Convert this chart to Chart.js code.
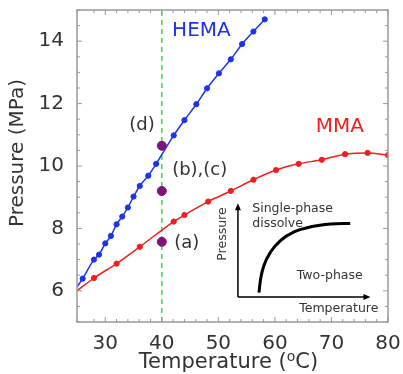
<!DOCTYPE html>
<html>
<head>
<meta charset="utf-8">
<script src="https://cdn.jsdelivr.net/npm/chart.js@4.4.1/dist/chart.umd.min.js"></script>
<style>
  html, body { margin: 0; padding: 0; background: #fff; }
  #wrap { width: 403px; height: 374px; }
</style>
</head>
<body>
<div id="wrap"><canvas id="myChart"></canvas></div>
<script>
// HEMA measured points (temperature, pressure)
const hemaT = [26.0, 28.0, 28.9, 30.0, 31.0, 32.0, 33.0, 34.0, 35.0, 36.1, 37.6, 39.0, 42.1, 44.0, 46.1, 48.0, 50.1, 52.2, 54.2, 56.2, 58.2];
const hemaP = [6.39, 7.0, 7.16, 7.52, 7.76, 8.13, 8.38, 8.67, 9.02, 9.36, 9.69, 10.07, 10.98, 11.47, 11.98, 12.49, 12.97, 13.42, 13.91, 14.31, 14.70];
// MMA measured points
const mmaT = [28.0, 32.0, 36.1, 42.1, 44.0, 48.2, 52.2, 56.2, 60.2, 64.2, 68.3, 72.4, 76.4, 80.0];
const mmaP = [6.41, 6.87, 7.41, 8.22, 8.43, 8.86, 9.2, 9.56, 9.87, 10.07, 10.2, 10.38, 10.42, 10.35];
// fitted curve start points (left edge of the plot)
const hemaStart = { x: 25, y: 6.12 };
const mmaStart = { x: 25, y: 6.0 };
// observation points at 40 °C: (a), (b)(c), (d)
const obsT = [40, 40, 40];
const obsP = [7.57, 9.2, 10.65];
const obsLabels = ['(a)', '(b),(c)', '(d)'];
const obsLabelT = [44.4, 46.7, 36.5];
const obsLabelP = [7.52, 9.87, 11.29];
// inset schematic: phase boundary, axes
const insetCurveT = [57.18, 57.48, 58.07, 59.26, 61.03, 63.39, 66.35, 69.89, 73.32];
const insetCurveP = [5.94, 6.39, 6.82, 7.25, 7.62, 7.89, 8.05, 8.14, 8.16];
const insetOrigin = { x: 53.46, y: 5.8 };
const insetXEnd = 76.9;
const insetYEnd = 8.81;
const insetTexts = [
  { text: 'Single-phase', x: 56.0, y: 8.64, align: 'left', rot: false },
  { text: 'dissolve', x: 56.0, y: 8.15, align: 'left', rot: false },
  { text: 'Two-phase', x: 69.7, y: 6.49, align: 'center', rot: false },
  { text: 'Temperature', x: 71.3, y: 5.42, align: 'center', rot: false },
  { text: 'Pressure', x: 50.7, y: 7.82, align: 'center', rot: true }
];

const BLUE = 'rgb(30, 50, 235)';
const RED = 'rgb(240, 30, 30)';
const TXT = '#333';
const FONT = 'DejaVu Sans';

function toXY(xs, ys) {
    const out = [];
    for (let i = 0; i < xs.length; i++) {
        out.push({ x: xs[i], y: ys[i] });
    }
    return out;
}

// frame, inward ticks, axis titles, text labels and the inset arrows
const decorPlugin = {
    id: 'decor',
    afterDatasetsDraw(chart) {
        const ctx = chart.ctx;
        const xs = chart.scales.x;
        const ys = chart.scales.y;
        const a = chart.chartArea;
        ctx.save();
        ctx.strokeStyle = '#999';
        ctx.lineWidth = 1.5;
        ctx.strokeRect(a.left, a.top, a.right - a.left, a.bottom - a.top);
        ctx.lineWidth = 1;
        ctx.beginPath();
        xs.ticks.forEach(t => {
            const px = xs.getPixelForValue(t.value);
            const len = t.value % 10 === 0 ? 5 : 3;
            ctx.moveTo(px, a.bottom); ctx.lineTo(px, a.bottom - len);
            ctx.moveTo(px, a.top); ctx.lineTo(px, a.top + len);
        });
        ys.ticks.forEach(t => {
            const py = ys.getPixelForValue(t.value);
            const len = t.value % 2 === 0 ? 5 : 3;
            ctx.moveTo(a.left, py); ctx.lineTo(a.left + len, py);
            ctx.moveTo(a.right, py); ctx.lineTo(a.right - len, py);
        });
        ctx.stroke();

        // y axis title, a bit above the middle like the original
        ctx.save();
        ctx.translate(18, (a.top + a.bottom) / 2 - 13);
        ctx.rotate(-Math.PI / 2);
        ctx.textAlign = 'center';
        ctx.textBaseline = 'middle';
        ctx.fillStyle = TXT;
        ctx.font = '20px "' + FONT + '"';
        ctx.fillText('Pressure (MPa)', 0, 0);
        ctx.restore();

        // x axis title with a raised small "o"
        ctx.fillStyle = TXT;
        ctx.textBaseline = 'alphabetic';
        ctx.textAlign = 'left';
        const big = '21px "' + FONT + '"';
        const small = '14px "' + FONT + '"';
        ctx.font = big;
        const w1 = ctx.measureText('Temperature (').width;
        const w3 = ctx.measureText('C)').width;
        ctx.font = small;
        const w2 = ctx.measureText('o').width;
        const tx = (a.left + a.right) / 2 - (w1 + w2 + w3) / 2 - 4;
        const ty = 368;
        ctx.font = big;
        ctx.fillText('Temperature (', tx, ty);
        ctx.font = small;
        ctx.fillText('o', tx + w1, ty - 7);
        ctx.font = big;
        ctx.fillText('C)', tx + w1 + w2, ty);

        ctx.textBaseline = 'middle';
        ctx.textAlign = 'center';
        ctx.font = '20px "' + FONT + '"';
        ctx.fillStyle = BLUE;
        ctx.fillText('HEMA', xs.getPixelForValue(47.0), ys.getPixelForValue(14.32));
        ctx.fillStyle = RED;
        ctx.fillText('MMA', xs.getPixelForValue(71.5), ys.getPixelForValue(11.26));
        ctx.fillStyle = TXT;
        ctx.font = '18px "' + FONT + '"';
        for (let i = 0; i < obsLabels.length; i++) {
            ctx.fillText(obsLabels[i], xs.getPixelForValue(obsLabelT[i]), ys.getPixelForValue(obsLabelP[i]));
        }

        // inset axes with arrow heads
        const ox = xs.getPixelForValue(insetOrigin.x);
        const oy = ys.getPixelForValue(insetOrigin.y);
        const xe = xs.getPixelForValue(insetXEnd);
        const ye = ys.getPixelForValue(insetYEnd);
        ctx.strokeStyle = '#000';
        ctx.fillStyle = '#000';
        ctx.lineWidth = 1.5;
        ctx.beginPath();
        ctx.moveTo(ox, oy); ctx.lineTo(xe - 4, oy);
        ctx.moveTo(ox, oy); ctx.lineTo(ox, ye + 4);
        ctx.stroke();
        ctx.beginPath();
        ctx.moveTo(xe, oy); ctx.lineTo(xe - 7, oy - 3); ctx.lineTo(xe - 7, oy + 3); ctx.closePath();
        ctx.moveTo(ox, ye); ctx.lineTo(ox - 3, ye + 7); ctx.lineTo(ox + 3, ye + 7); ctx.closePath();
        ctx.fill();

        ctx.fillStyle = TXT;
        ctx.font = '12.5px "' + FONT + '"';
        insetTexts.forEach(t => {
            const px = xs.getPixelForValue(t.x);
            const py = ys.getPixelForValue(t.y);
            ctx.save();
            ctx.translate(px, py);
            if (t.rot) ctx.rotate(-Math.PI / 2);
            ctx.textAlign = t.align;
            ctx.fillText(t.text, 0, 0);
            ctx.restore();
        });
        ctx.restore();
    }
};

const data = {
    datasets: [
        {
            label: 'guide 40',
            data: [{ x: 40, y: 5 }, { x: 40, y: 15 }],
            showLine: true,
            borderColor: 'rgb(50, 230, 50)',
            borderWidth: 1.5,
            borderDash: [5, 4],
            pointRadius: 0,
            order: 4,
        },
        {
            label: 'HEMA fit',
            data: [hemaStart].concat(toXY(hemaT, hemaP)),
            showLine: true,
            borderColor: BLUE,
            borderWidth: 1.5,
            pointRadius: 0,
            cubicInterpolationMode: 'monotone',
            order: 3,
        },
        {
            label: 'HEMA',
            data: toXY(hemaT, hemaP),
            backgroundColor: BLUE,
            borderColor: BLUE,
            pointRadius: 2.6,
            order: 2,
        },
        {
            label: 'MMA fit',
            data: [mmaStart].concat(toXY(mmaT, mmaP)),
            showLine: true,
            borderColor: RED,
            borderWidth: 1.5,
            pointRadius: 0,
            cubicInterpolationMode: 'monotone',
            order: 3,
        },
        {
            label: 'MMA',
            data: toXY(mmaT, mmaP),
            backgroundColor: RED,
            borderColor: RED,
            pointRadius: 2.6,
            order: 2,
        },
        {
            label: 'obs',
            data: toXY(obsT, obsP),
            backgroundColor: 'rgb(125, 20, 125)',
            borderColor: 'rgb(125, 20, 125)',
            pointRadius: 4.5,
            order: 1,
        },
        {
            label: 'inset',
            data: toXY(insetCurveT, insetCurveP),
            showLine: true,
            borderColor: '#000',
            borderWidth: 3,
            pointRadius: 0,
            cubicInterpolationMode: 'monotone',
            order: 3,
        }
    ]
};

const config = {
    type: 'scatter',
    data: data,
    plugins: [decorPlugin],
    options: {
        responsive: true,
        maintainAspectRatio: false,
        animation: false,
        layout: { padding: { top: 10, right: 15, left: 0, bottom: 0 } },
        plugins: {
            legend: { display: false },
            tooltip: { enabled: false }
        },
        scales: {
            x: {
                type: 'linear',
                min: 25,
                max: 80,
                grid: { display: false },
                border: { display: false },
                afterFit: s => { s.height = 52; s.paddingLeft = 0; s.paddingRight = 0; },
                ticks: {
                    stepSize: 2,
                    autoSkip: false,
                    maxRotation: 0,
                    padding: 2,
                    color: TXT,
                    font: { family: FONT, size: 20 },
                    callback: v => (v % 10 === 0 ? v : '')
                },
                title: { display: false }
            },
            y: {
                type: 'linear',
                min: 5,
                max: 15,
                grid: { display: false },
                border: { display: false },
                afterFit: s => { s.width = 77; s.paddingTop = 0; s.paddingBottom = 0; },
                ticks: {
                    stepSize: 0.5,
                    autoSkip: false,
                    padding: 5,
                    color: TXT,
                    font: { family: FONT, size: 20 },
                    callback: v => (v % 2 === 0 && v >= 6 && v <= 14 ? v : '')
                },
                title: { display: false }
            }
        }
    }
};

new Chart(document.getElementById('myChart'), config);
</script>
</body>
</html>
